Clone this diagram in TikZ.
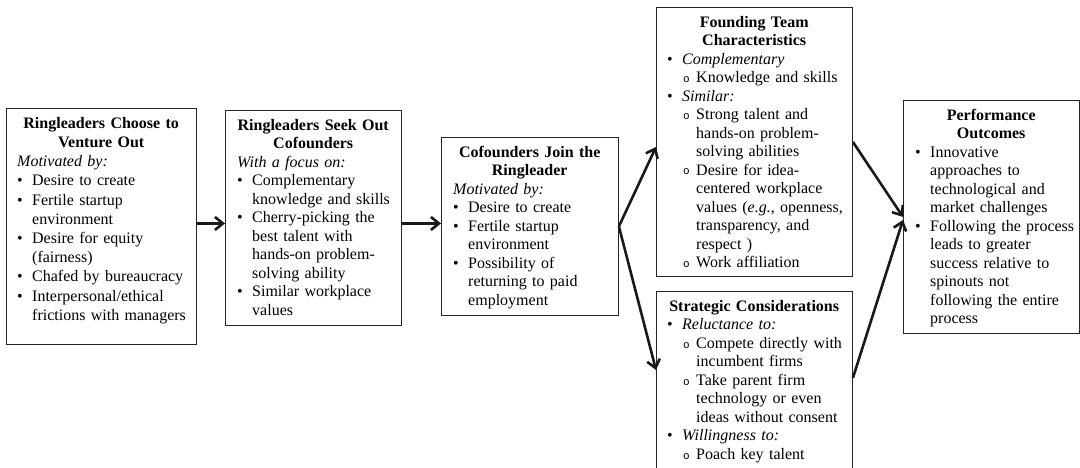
\documentclass[tikz,border=0pt]{standalone}
\usepackage{fontspec}
\setmainfont{Liberation Serif}
\newfontfamily\ringmono{Liberation Mono}
\usetikzlibrary{arrows.meta, positioning}
\hyphenpenalty=10000
\exhyphenpenalty=10000

% list helpers for the stage boxes
\newcommand{\ttl}[1]{{\centering\bfseries #1\par}}
\newcommand{\lead}[1]{\noindent{\itshape #1}\par}
\newcommand{\itm}[1]{\rightskip=-14pt plus 1fil\hangindent=15pt\hangafter=1\noindent\makebox[15pt][l]{\textbullet}#1\par}
\newcommand{\subitm}[1]{\rightskip=-14pt plus 1fil\hangindent=29pt\hangafter=1\noindent\hspace*{16pt}\makebox[13pt][l]{\raisebox{0.3pt}{\ringmono\fontsize{11}{11}\selectfont o}}#1\par}

\begin{document}
\begin{tikzpicture}[x=1pt, y=-1pt,
    stagebox/.style={draw=black!85, line width=0.9pt, inner sep=0pt, anchor=north west},
    stagetext/.style={inner sep=0pt, anchor=north west, align=left,
        font=\fontsize{16}{18.5}\selectfont},
    flowarrow/.style={-{Straight Barb[length=8pt,width=13pt]}, line width=2.6pt, black!90}]
    \useasboundingbox (0,0) rectangle (1080,468);

    % Ringleaders leave
    \node[stagebox, minimum width=190, minimum height=236] (venture) at (6,108) {};
    \node[stagetext, text width=168pt, font=\fontsize{16}{19.2}\selectfont] (ventureTxt)
        at ([shift={(11pt,-9pt)}]venture.north west) {%
        \ttl{Ringleaders Choose to\\ Venture Out}
        \lead{Motivated by:}
        \itm{Desire to create}
        \itm{Fertile startup\newline environment}
        \itm{Desire for equity\newline (fairness)}
        \itm{Chafed by bureaucracy}
        \itm{Interpersonal/ethical\newline frictions with managers}};

    % Cofounders sought
    \node[stagebox, minimum width=176, minimum height=215] (seek) at (225,110) {};
    \node[stagetext, text width=152pt] (seekTxt) at ([shift={(12pt,-9pt)}]seek.north west) {%
        \ttl{Ringleaders Seek Out\\ Cofounders}
        \lead{With a focus on:}
        \itm{Complementary\newline knowledge and skills}
        \itm{Cherry-picking the\newline best talent with\newline hands-on problem-\newline solving ability}
        \itm{Similar workplace\newline values}};

    % Cofounders join
    \node[stagebox, minimum width=177, minimum height=178] (join) at (441,137) {};
    \node[stagetext, text width=153pt] (joinTxt) at ([shift={(12pt,-9pt)}]join.north west) {%
        \ttl{Cofounders Join the\\ Ringleader}
        \lead{Motivated by:}
        \itm{Desire to create}
        \itm{Fertile startup\newline environment}
        \itm{Possibility of\newline returning to paid\newline employment}};

    % Team characteristics
    \node[stagebox, minimum width=196, minimum height=269] (team) at (656,7) {};
    \node[stagetext, text width=174pt] (teamTxt) at ([shift={(11pt,-9pt)}]team.north west) {%
        \ttl{Founding Team\\ Characteristics}
        \itm{\textit{Complementary}}
        \subitm{Knowledge and skills}
        \itm{\textit{Similar:}}
        \subitm{Strong talent and\newline hands-on problem-\newline solving abilities}
        \subitm{Desire for idea-\newline centered workplace\newline values (\textit{e.g.}, openness,\newline transparency, and\newline respect )}
        \subitm{Work affiliation}};

    % Strategic considerations (runs off the bottom)
    \node[stagebox, minimum width=196, minimum height=186] (strat) at (656,291) {};
    \node[stagetext, text width=174pt] (stratTxt) at ([shift={(11pt,-9pt)}]strat.north west) {%
        \ttl{Strategic Considerations}
        \itm{\textit{Reluctance to:}}
        \subitm{Compete directly with\newline incumbent firms}
        \subitm{Take parent firm\newline technology or even\newline ideas without consent}
        \itm{\textit{Willingness to:}}
        \subitm{Poach key talent}};

    % Outcomes
    \node[stagebox, minimum width=176, minimum height=233] (outcome) at (903,100) {};
    \node[stagetext, text width=152pt] (outcomeTxt) at ([shift={(12pt,-9pt)}]outcome.north west) {%
        \ttl{Performance\\ Outcomes}
        \itm{Innovative\newline approaches to\newline technological and\newline market challenges}
        \itm{Following the process\newline leads to greater\newline success relative to\newline spinouts not\newline following the entire\newline process}};

    % arrows
    \draw[flowarrow] ([yshift=3pt]venture.east) -- ([yshift=3pt]venture.east -| seek.west);
    \draw[flowarrow] ([yshift=3pt]join.west -| seek.east) -- ([yshift=3pt]join.west);
    \draw[flowarrow] (join.east) -- ([yshift=-5pt]team.west);
    \draw[flowarrow] (join.east) -- ([yshift=-79pt]strat.north west);
    \draw[flowarrow] (team.east) -- (outcome.west);
    \draw[flowarrow] ([yshift=-87pt]strat.north east) -- ([yshift=-3pt]outcome.west);
\end{tikzpicture}
\end{document}
